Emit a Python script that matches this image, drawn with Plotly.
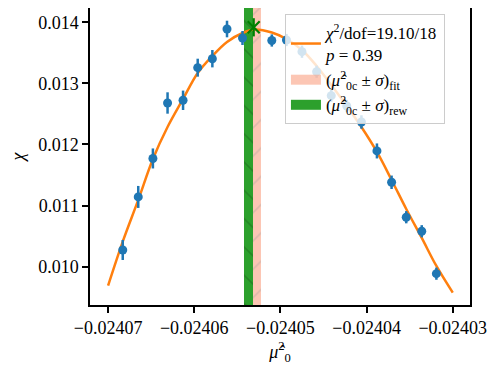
import plotly.graph_objects as go

# measured points (mu0^2 hat, chi, error)
mu2 = [-0.0240683, -0.0240665, -0.0240648, -0.0240631, -0.0240613, -0.0240596,
       -0.0240579, -0.0240562, -0.0240544, -0.0240510, -0.0240493, -0.0240475,
       -0.0240458, -0.0240441, -0.0240423, -0.0240406, -0.0240388, -0.0240371,
       -0.0240354, -0.0240336, -0.0240319]
chi = [0.010273, 0.011141, 0.011771, 0.012679, 0.012723, 0.013257,
       0.013404, 0.013890, 0.013743, 0.013702, 0.013710, 0.013519,
       0.013191, 0.012799, 0.012630, 0.012368, 0.011894, 0.011381,
       0.010809, 0.010579, 0.009885]
chi_err = [0.000164, 0.000180, 0.000164, 0.000175, 0.000159, 0.000147,
           0.000142, 0.000136, 0.000115, 0.000100, 0.000100, 0.000100,
           0.000100, 0.000100, 0.000100, 0.000110, 0.000123, 0.000110,
           0.000100, 0.000100, 0.000100]

# fit curve
fit_x = [-0.0240700, -0.0240683, -0.0240665, -0.0240648, -0.0240631, -0.0240613,
         -0.0240596, -0.0240579, -0.0240562, -0.0240544, -0.0240530, -0.0240510,
         -0.0240493, -0.0240475, -0.0240458, -0.0240441, -0.0240423, -0.0240406,
         -0.0240388, -0.0240371, -0.0240354, -0.0240336, -0.0240319, -0.0240300]
fit_y = [0.009689, 0.010409, 0.011092, 0.011763, 0.012286, 0.012745,
         0.013170, 0.013448, 0.013678, 0.013825, 0.013882, 0.013833,
         0.013727, 0.013547, 0.013285, 0.012974, 0.012630, 0.012286,
         0.011877, 0.011419, 0.010944, 0.010470, 0.010011, 0.009574]

# maximum marker
peak_x = [-0.0240531]
peak_y = [0.013918]

# bands (lo, hi)
fit_band = [-0.0240532, -0.0240522]
rew_band = [-0.0240542, -0.0240532]

x_ticks = [-0.02407, -0.02406, -0.02405, -0.02404, -0.02403]
x_ticktext = ['−0.02407', '−0.02406', '−0.02405', '−0.02404', '−0.02403']
y_ticks = [0.010, 0.011, 0.012, 0.013, 0.014]
y_ticktext = ['0.010', '0.011', '0.012', '0.013', '0.014']

y_lo, y_hi = 0.009372, 0.014234
x_lo, x_hi = -0.0240721, -0.0240280

font = "Liberation Serif"
salmon = 'rgba(250,160,130,0.6)'
green = '#2ca02c'

fig = go.Figure()

fig.add_trace(go.Scatter(x=fit_x, y=fit_y, mode='lines', line_shape='spline',
                         line=dict(color='#ff7f0e', width=2.5),
                         name='<i>χ</i><sup>2</sup>/dof=19.10/18<br><i>p</i> = 0.39'))

# legend-only entries for the bands (thick lines give wide patches)
fig.add_trace(go.Scatter(x=[None], y=[None], mode='lines',
                         line=dict(color=salmon, width=13),
                         name='(<i>μ̂</i><sup>2</sup><sub>0c</sub> ± <i>σ</i>)<sub>fit</sub>'))
fig.add_trace(go.Scatter(x=[None], y=[None], mode='lines',
                         line=dict(color=green, width=13),
                         name='(<i>μ̂</i><sup>2</sup><sub>0c</sub> ± <i>σ</i>)<sub>rew</sub>'))

fig.add_trace(go.Bar(x=[(fit_band[0] + fit_band[1]) / 2], y=[y_hi - y_lo], base=[y_lo],
                     width=[fit_band[1] - fit_band[0]], showlegend=False,
                     marker=dict(color=salmon, line_width=0,
                                 pattern=dict(shape='/', fgcolor='rgba(150,150,150,0.6)',
                                              bgcolor=salmon,
                                              size=20, solidity=0.08, fillmode='overlay'))))
fig.add_trace(go.Bar(x=[(rew_band[0] + rew_band[1]) / 2], y=[y_hi - y_lo], base=[y_lo],
                     width=[rew_band[1] - rew_band[0]], showlegend=False,
                     marker=dict(color=green, line_width=0,
                                 pattern=dict(shape='\\', fgcolor='#1d6a1d',
                                              bgcolor=green,
                                              size=20, solidity=0.08, fillmode='overlay'))))

fig.add_trace(go.Scatter(x=mu2, y=chi, mode='markers', showlegend=False,
                         marker=dict(color='#1f77b4', size=9),
                         error_y=dict(type='data', array=chi_err, color='#1f77b4',
                                      thickness=2.5, width=0)))

fig.add_trace(go.Scatter(x=peak_x, y=peak_y, mode='markers', showlegend=False,
                         marker=dict(symbol='x-thin-open', size=12, color='green',
                                     line=dict(color='green', width=2.2))))
fig.add_trace(go.Scatter(x=peak_x, y=peak_y, mode='markers', showlegend=False,
                         marker=dict(symbol='line-ns-open', size=13, color='green',
                                     line=dict(color='green', width=2.2))))

axis_common = dict(showline=True, linecolor='black', linewidth=1.5, mirror=True,
                   ticks='outside', ticklen=6, tickwidth=1.5, tickcolor='black',
                   showgrid=False, zeroline=False, automargin=False,
                   ticklabeloverflow='allow',
                   tickfont=dict(family=font, size=18, color='black'))

# page body adds an 8px offset, so the figure is sized 8px smaller
fig.update_layout(
    template='none',
    width=490, height=366,
    margin=dict(l=82, r=28, t=0, b=69),
    paper_bgcolor='white', plot_bgcolor='white',
    font=dict(family=font, color='black'),
    barmode='overlay', bargap=0,
    legend=dict(x=0.513, y=0.98, xanchor='left', yanchor='top',
                bgcolor='rgba(255,255,255,0.8)', bordercolor='#cccccc', borderwidth=1,
                font=dict(family=font, size=17), tracegroupgap=0),
    xaxis=dict(range=[x_lo, x_hi], tickmode='array',
               tickvals=x_ticks, ticktext=x_ticktext,
               title=dict(text='<i>μ̂</i><sup>2</sup><sub>0</sub>',
                          font=dict(family=font, size=18), standoff=8),
               **axis_common),
    yaxis=dict(range=[y_lo, y_hi], tickmode='array',
               tickvals=y_ticks, ticktext=y_ticktext,
               title=dict(text='<i>χ</i>', font=dict(family=font, size=18), standoff=12),
               **axis_common),
)

fig.write_html("out.html")
